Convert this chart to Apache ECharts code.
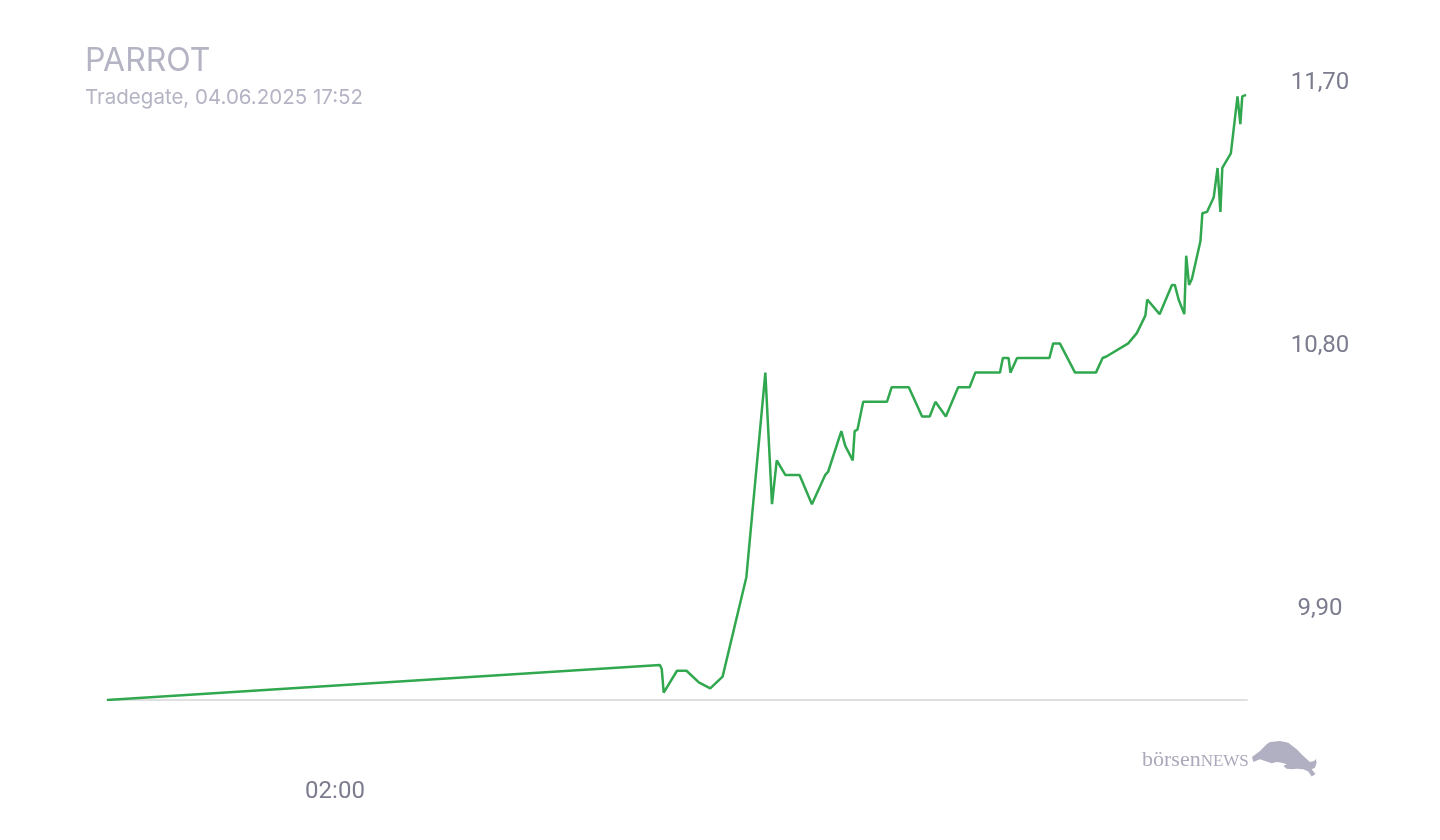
<!DOCTYPE html>
<html>
<head>
<meta charset="utf-8">
<title>PARROT</title>
<script src="https://cdn.jsdelivr.net/npm/echarts@6/dist/echarts.min.js"></script>
<style>
    html, body { margin: 0; padding: 0; background: #fff; }
    #chart { width: 1440px; height: 840px; }
</style>
</head>
<body>
<div id="chart"></div>
<script>
    // Minuten relativ zu 04.06.2025 00:00 (negativ = Vortag)
    var minutes = [-120, 462, 464, 466, 480, 490, 503, 515, 528, 553, 573, 580, 585, 594, 609, 622, 636, 639,
        653, 657, 665, 667, 670, 676, 701, 706, 724, 738, 746, 752, 763, 776, 788, 794, 820, 823, 829, 831,
        838, 872, 876, 883, 899, 921, 928, 932, 955, 964, 973, 975, 988, 1001, 1004, 1008, 1014, 1016, 1019,
        1022, 1031, 1033, 1038, 1045, 1049, 1052, 1054, 1063, 1070, 1073, 1075, 1079];
    var prices = [9.58, 9.70, 9.685, 9.605, 9.68, 9.68, 9.64, 9.62, 9.66, 10.00, 10.70, 10.25, 10.40, 10.35,
        10.35, 10.25, 10.35, 10.36, 10.50, 10.45, 10.40, 10.50, 10.505, 10.60, 10.60, 10.65, 10.65, 10.55,
        10.55, 10.60, 10.55, 10.65, 10.65, 10.70, 10.70, 10.75, 10.75, 10.70, 10.75, 10.75, 10.80, 10.80,
        10.70, 10.70, 10.75, 10.755, 10.80, 10.835, 10.895, 10.95, 10.90, 11.00, 11.00, 10.95, 10.90, 11.10,
        11.00, 11.02, 11.15, 11.245, 11.25, 11.30, 11.40, 11.25, 11.40, 11.45, 11.645, 11.55, 11.645, 11.65];
    var priceTicks = [9.90, 10.80, 11.70];
    var timeTicks = [120];

    var grau = '#7c7c8f';
    var hell = '#b4b4c4';

    var seriesData = minutes.map(function (m, i) { return [m, prices[i]]; });

    function fmtTime(m) {
        var mm = ((m % 1440) + 1440) % 1440;
        var h = Math.floor(mm / 60), n = mm % 60;
        return (h < 10 ? '0' : '') + h + ':' + (n < 10 ? '0' : '') + n;
    }

    var myChart = echarts.init(document.getElementById('chart'));
    var option = {
        animation: false,
        backgroundColor: '#fff',
        title: {
            text: 'PARROT',
            subtext: 'Tradegate, 04.06.2025 17:52',
            left: 80,
            top: 40,
            itemGap: 10,
            textStyle: { fontFamily: 'Inter', fontSize: 32, fontWeight: 'normal', color: hell },
            subtextStyle: { fontFamily: 'Inter', fontSize: 20.5, color: hell }
        },
        grid: { left: 107, right: 193, top: 61, bottom: 140, containLabel: false },
        xAxis: {
            type: 'value',
            min: -120,
            max: 1080,
            axisLine: { show: true, lineStyle: { color: '#e0e0e0', width: 2 } },
            axisTick: { show: false },
            splitLine: { show: false },
            axisLabel: {
                customValues: timeTicks,
                margin: 80,
                fontFamily: 'Roboto',
                fontSize: 24,
                color: grau,
                formatter: function (v) { return fmtTime(v); }
            }
        },
        yAxis: {
            type: 'value',
            position: 'right',
            min: 9.58,
            max: 11.766,
            axisLine: { show: false },
            axisTick: { show: false },
            splitLine: { show: false },
            axisLabel: {
                customValues: priceTicks,
                margin: 73,
                align: 'center',
                formatter: function (v) { return '{v|' + v.toFixed(2).replace('.', ',') + '}'; },
                rich: {
                    v: { fontFamily: 'Roboto', fontSize: 24, color: grau, padding: [6, 0, 0, 0] }
                }
            }
        },
        series: [
            {
                name: 'PARROT',
                type: 'line',
                showSymbol: false,
                symbol: 'none',
                lineStyle: { color: '#31a84f', width: 2.5 },
                data: seriesData
            }
        ],
        graphic: [
            {
                type: 'text',
                left: 1142,
                top: 749,
                style: {
                    text: '{a|börsen}{b|NEWS}',
                    rich: {
                        a: { fontFamily: 'Liberation Serif', fontSize: 22, fill: '#a9a9bb', verticalAlign: 'bottom' },
                        b: { fontFamily: 'Liberation Serif', fontSize: 17, fill: '#a9a9bb', verticalAlign: 'bottom', padding: [0, 0, 1, 0] }
                    }
                }
            },
            {
                // Bullen-Logo
                type: 'polygon',
                shape: {
                    points: [[1252, 757], [1260, 751], [1266.7, 744.3], [1270, 742], [1280, 741], [1288.3, 742.7],
                        [1296.7, 749.3], [1303.3, 756], [1310, 762], [1314, 761], [1316, 759], [1316.5, 763],
                        [1315, 767.7], [1311.7, 769.3], [1315.5, 774], [1311.7, 776.5], [1308.3, 771.5],
                        [1303.3, 769.3], [1296.7, 768.7], [1291.7, 769.3], [1286.7, 768.7], [1283.3, 766],
                        [1286.7, 764.3], [1281.7, 762.7], [1276.7, 762], [1271.7, 763.3], [1265, 761],
                        [1260, 759.3], [1253.3, 762]]
                },
                style: { fill: '#b0b0c2' }
            }
        ]
    };
    myChart.setOption(option);
</script>
</body>
</html>
